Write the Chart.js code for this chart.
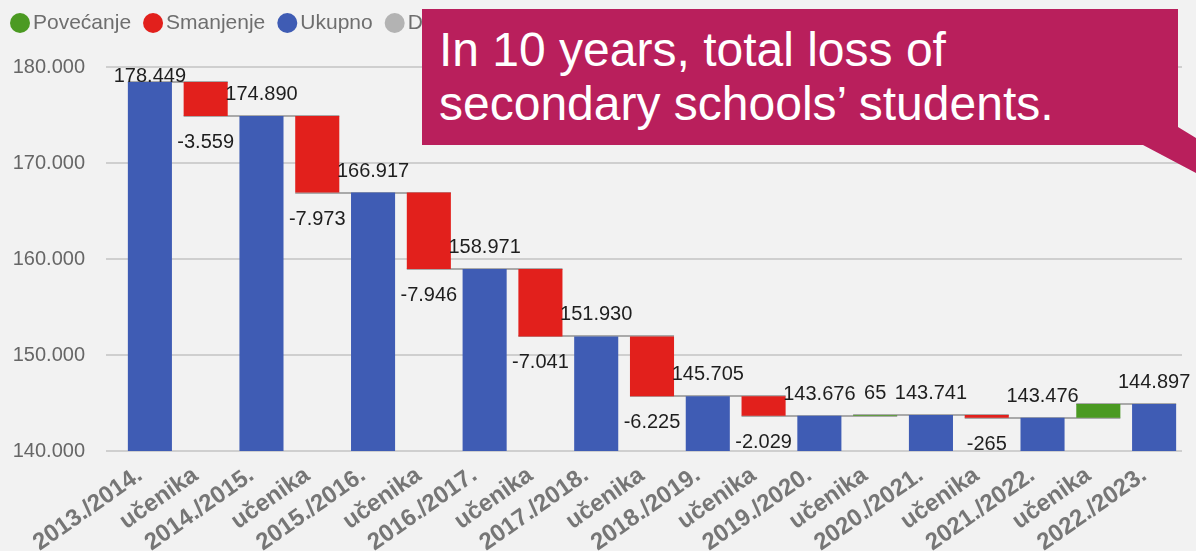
<!DOCTYPE html>
<html>
<head>
<meta charset="utf-8">
<script src="https://cdn.jsdelivr.net/npm/chart.js@4.4.0/dist/chart.umd.min.js"></script>
<style>
html, body { margin: 0; padding: 0; background: #f2f2f2; }
#wrap { position: relative; width: 1196px; height: 551px; overflow: hidden; }
#chart { position: absolute; left: 0; top: 0; }
#callout {
    position: absolute; left: 422px; top: 9px; width: 774px; height: 164px;
    background: #b91f5c; color: #fff;
    font-family: 'Liberation Sans', Arial, sans-serif; font-size: 48px; line-height: 54px;
    clip-path: polygon(0 0, 756px 0, 756px 118px, 774px 129px, 774px 164px, 721px 136px, 0 136px);
}
#callout .txt { position: absolute; left: 17px; top: 14px; white-space: nowrap; }
</style>
</head>
<body>
<div id="wrap">
    <canvas id="chart" width="1196" height="551"></canvas>
    <div id="callout"><div class="txt">In 10 years, total loss of<br>secondary schools’ students.</div></div>
</div>
<script>
const categories = [
    '2013./2014.', 'učenika', '2014./2015.', 'učenika', '2015./2016.', 'učenika',
    '2016./2017.', 'učenika', '2017./2018.', 'učenika', '2018./2019.', 'učenika',
    '2019./2020.', 'učenika', '2020./2021.', 'učenika', '2021./2022.', 'učenika', '2022./2023.'
];
const totals  = [178449, 174890, 166917, 158971, 151930, 145705, 143676, 143741, 143476, 144897];
const changes = [-3559, -7973, -7946, -7041, -6225, -2029, 65, -265, 1421];
// the +1.421 label is not shown in the original
const changeLabelShown = [true, true, true, true, true, true, true, true, false];
const yTicks = [140000, 150000, 160000, 170000, 180000];
const legendNames = ['Povećanje', 'Smanjenje', 'Ukupno', 'Drugo'];

const C_UP = '#4b9a22', C_DOWN = '#e2201c', C_TOTAL = '#3f5cb4', C_OTHER = '#b3b3b3';
const FONT = "'Liberation Sans', Arial, sans-serif";

const fmt = v => String(v).replace(/\B(?=(\d{3})+(?!\d))/g, '.');

// waterfall: total, change, total, change ...
const bars = [];
totals.forEach((t, i) => {
    bars.push({ kind: 'total', value: t, end: t, label: fmt(t) });
    if (i < changes.length) {
        const d = changes[i];
        bars.push({ kind: d < 0 ? 'down' : 'up', value: [t, t + d], end: t + d,
            label: changeLabelShown[i] ? fmt(d) : '' });
    }
});
const barColors = bars.map(b => b.kind === 'total' ? C_TOTAL : b.kind === 'down' ? C_DOWN : C_UP);

const connectors = {
    id: 'connectors',
    beforeDatasetsDraw(chart) {
        const ctx = chart.ctx, ys = chart.scales.y, els = chart.getDatasetMeta(0).data;
        ctx.save();
        ctx.strokeStyle = '#a9a9a9';
        ctx.lineWidth = 2;
        for (let i = 0; i < bars.length - 1; i++) {
            const a = els[i], b = els[i + 1];
            const y = Math.round(ys.getPixelForValue(bars[i].end));
            ctx.beginPath();
            ctx.moveTo(a.x - a.width / 2, y);
            ctx.lineTo(b.x + b.width / 2, y);
            ctx.stroke();
        }
        ctx.restore();
    }
};

const valueLabels = {
    id: 'valueLabels',
    afterDatasetsDraw(chart) {
        const ctx = chart.ctx, ys = chart.scales.y, els = chart.getDatasetMeta(0).data;
        const top = chart.chartArea.top;
        ctx.save();
        ctx.font = '20px ' + FONT;
        ctx.fillStyle = '#1e1e1e';
        ctx.textAlign = 'center';
        ctx.textBaseline = 'alphabetic';
        bars.forEach((b, i) => {
            if (!b.label) return;
            const py = ys.getPixelForValue(b.end);
            let y;
            if (b.kind === 'down') y = py + 32;
            else y = Math.max(py - 16, top + 15);
            ctx.fillText(b.label, els[i].x, y);
        });
        ctx.restore();
    }
};

const legendDots = {
    id: 'legendDots',
    afterDraw(chart) {
        const ctx = chart.ctx;
        const colors = [C_UP, C_DOWN, C_TOTAL, C_OTHER];
        ctx.save();
        ctx.font = '21px ' + FONT;
        ctx.textBaseline = 'alphabetic';
        let x = 10;
        legendNames.forEach((name, i) => {
            ctx.fillStyle = colors[i];
            ctx.beginPath();
            ctx.arc(x + 10, 23, 10, 0, Math.PI * 2);
            ctx.fill();
            ctx.fillStyle = '#6e6e6e';
            ctx.fillText(name, x + 23, 29);
            x += 23 + ctx.measureText(name).width + 12;
        });
        ctx.restore();
    }
};

new Chart(document.getElementById('chart'), {
    type: 'bar',
    data: {
        labels: categories,
        datasets: [{
            data: bars.map(b => b.value),
            backgroundColor: barColors,
            barPercentage: 0.79,
            categoryPercentage: 1
        }]
    },
    options: {
        responsive: false,
        animation: false,
        layout: { padding: { left: 12, right: 14, top: 67, bottom: 0 } },
        plugins: { legend: { display: false }, tooltip: { enabled: false } },
        scales: {
            x: {
                grid: { display: false, drawTicks: false },
                border: { display: false },
                ticks: {
                    color: '#767676', font: { family: FONT, size: 24, weight: 'bold' },
                    minRotation: 35, maxRotation: 35, autoSkip: false, padding: 10, labelOffset: -10
                },
                afterFit: s => { s.height = 100; }
            },
            y: {
                min: yTicks[0], max: yTicks[yTicks.length - 1],
                afterBuildTicks: s => { s.ticks = yTicks.map(v => ({ value: v })); },
                ticks: { color: '#666', font: { family: FONT, size: 20 }, padding: 21, callback: v => fmt(v) },
                grid: { color: '#cfcfcf', lineWidth: 2, tickLength: 16, drawTicks: true },
                border: { display: false },
                afterFit: s => { s.width = 110; }
            }
        }
    },
    plugins: [connectors, valueLabels, legendDots]
});
</script>
</body>
</html>
